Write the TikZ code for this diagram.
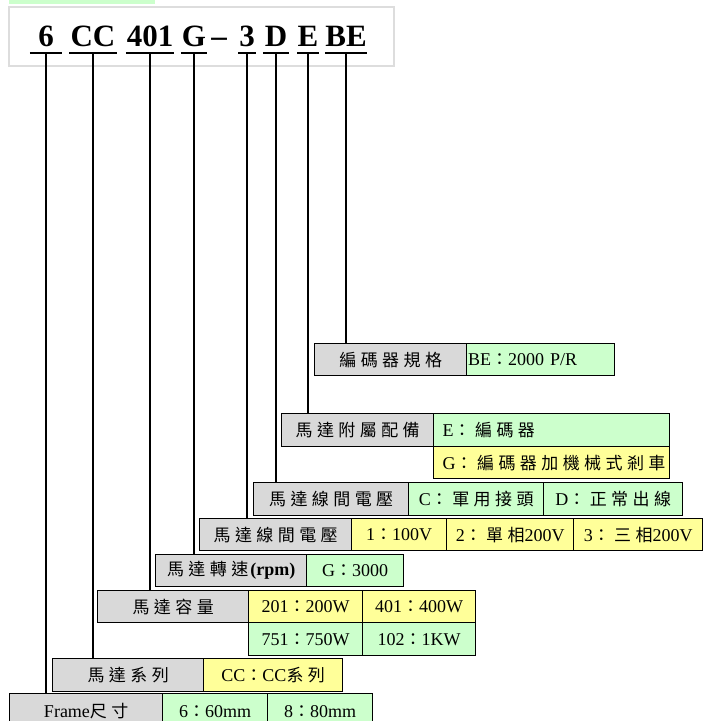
\documentclass[tikz,border=0pt]{standalone}
\usepackage{fontspec}
\setmainfont{Liberation Serif}
\newfontfamily\cjkfont{Noto Sans CJK TC}[LetterSpace=26]
\newcommand\cj[1]{{\cjkfont\fontsize{17}{20}\selectfont #1}}
\definecolor{cgray}{HTML}{D9D9D9}
\definecolor{cgreen}{HTML}{CCFFCC}
\definecolor{cyellow}{HTML}{FFFF99}
\definecolor{cframe}{HTML}{DDDDDD}
\tikzset{
  cell/.style={draw=black, line width=1.4pt, inner sep=0pt, anchor=north west,
    font=\fontsize{18}{20}\selectfont},
  gcell/.style={cell, fill=cgray},
  ncell/.style={cell, fill=cgreen},
  ycell/.style={cell, fill=cyellow},
  tok/.style={inner xsep=0pt, inner ysep=0pt, text depth=6.5pt, anchor=base,
    font=\fontsize{31}{33}\selectfont\bfseries},
  uline/.style={line width=1.5pt, black},
  conn/.style={line width=1.5pt, black},
}
\begin{document}
\begin{tikzpicture}[x=1pt, y=-1pt]
\useasboundingbox (0,0) rectangle (715,721);
% header
\fill[cgreen] (9,0) rectangle (155,4);
\draw[cframe, line width=1.5pt] (9,7) rectangle (394,66);
% title tokens
\node[tok, minimum width=32pt] (t1) at (46,46.5) {6};
\node[tok, minimum width=47pt] (t2) at (93,46.5) {CC};
\node[tok, minimum width=48pt] (t3) at (150,46.5) {401};
\node[tok, minimum width=26pt] (t4) at (194,46.5) {G};
\node[tok, text depth=0pt] (dash) at (219,46.5) {–};
\node[tok, minimum width=17pt] (t5) at (247,46.5) {3};
\node[tok, minimum width=26pt] (t6) at (276,46.5) {D};
\node[tok, minimum width=19pt] (t7) at (308,46.5) {E};
\node[tok, minimum width=42pt] (t8) at (346,46.5) {BE};
\foreach \t in {t1,t2,t3,t4,t5,t6,t7,t8}
  \draw[uline] (\t.south west) -- (\t.south east);
% row: encoder spec
\node[gcell, minimum width=152pt, minimum height=32pt] (enc) at (314,343) {\cj{編碼器規格}};
\node[ncell, text width=145pt, inner xsep=1.5pt, align=left, minimum height=32pt] (encv) at (466,343) {BE\cj{：}2000 P/R};
% row: accessories
\node[gcell, minimum width=152pt, minimum height=33pt] (acc) at (281,413) {\cj{馬達附屬配備}};
\node[ncell, text width=218pt, inner xsep=9pt, align=left, minimum height=33pt] (accE) at (433,413) {E\cj{：編碼器}};
\node[ycell, text width=218pt, inner xsep=9pt, align=left, minimum height=32pt] (accG) at (433,446) {G\cj{：編碼器加機械式剎車}};
% row: voltage 1
\node[gcell, minimum width=155pt, minimum height=33pt] (va) at (253,482) {\cj{馬達線間電壓}};
\node[ncell, minimum width=135pt, minimum height=33pt] (vaC) at (408,482) {C\cj{：軍用接頭}};
\node[ncell, minimum width=139pt, minimum height=33pt] (vaD) at (543,482) {D\cj{：正常出線}};
% row: voltage 2
\node[gcell, minimum width=152pt, minimum height=32pt] (vb) at (199,518) {\cj{馬達線間電壓}};
\node[ycell, minimum width=95pt, minimum height=32pt] (vb1) at (351,518) {1\cj{：}100V};
\node[ycell, minimum width=127pt, minimum height=32pt] (vb2) at (446,518) {2\cj{：單相}200V};
\node[ycell, minimum width=129pt, minimum height=32pt] (vb3) at (573,518) {3\cj{：三相}200V};
% row: speed
\node[gcell, minimum width=151pt, minimum height=32pt] (rpm) at (155,554) {\cj{馬達轉速}\kern2pt\textbf{(rpm)}};
\node[ncell, minimum width=97pt, minimum height=32pt] (rpmG) at (306,554) {G\cj{：}3000};
% row: capacity
\node[gcell, minimum width=151pt, minimum height=32pt] (cap) at (97,590) {\cj{馬達容量}};
\node[ycell, minimum width=114pt, minimum height=32pt] (c201) at (248,590) {201\cj{：}200W};
\node[ycell, minimum width=113pt, minimum height=32pt] (c401) at (362,590) {401\cj{：}400W};
\node[ncell, minimum width=114pt, minimum height=33pt] (c751) at (248,622) {751\cj{：}750W};
\node[ncell, minimum width=113pt, minimum height=33pt] (c102) at (362,622) {102\cj{：}1KW};
% row: series
\node[gcell, minimum width=151pt, minimum height=33pt] (ser) at (52,658) {\cj{馬達系列}};
\node[ycell, minimum width=139pt, minimum height=33pt] (serCC) at (203,658) {CC\cj{：}CC\cj{系列}};
% row: frame
\node[gcell, minimum width=153pt, minimum height=35pt] (frm) at (9,693) {Frame\cj{尺寸}};
\node[ncell, minimum width=105pt, minimum height=35pt] (frm6) at (162,693) {6\cj{：}60mm};
\node[ncell, minimum width=105pt, minimum height=35pt] (frm8) at (267,693) {8\cj{：}80mm};
% connectors
\draw[conn] (t1.south) -- (t1.south |- frm.north);
\draw[conn] (t2.south) -- (t2.south |- ser.north);
\draw[conn] (t3.south) -- (t3.south |- cap.north);
\draw[conn] (t4.south) -- (t4.south |- rpm.north);
\draw[conn] (t5.south) -- (t5.south |- vb.north);
\draw[conn] (t6.south) -- (t6.south |- va.north);
\draw[conn] (t7.south) -- (t7.south |- acc.north);
\draw[conn] (t8.south) -- (t8.south |- enc.north);
\end{tikzpicture}
\end{document}
